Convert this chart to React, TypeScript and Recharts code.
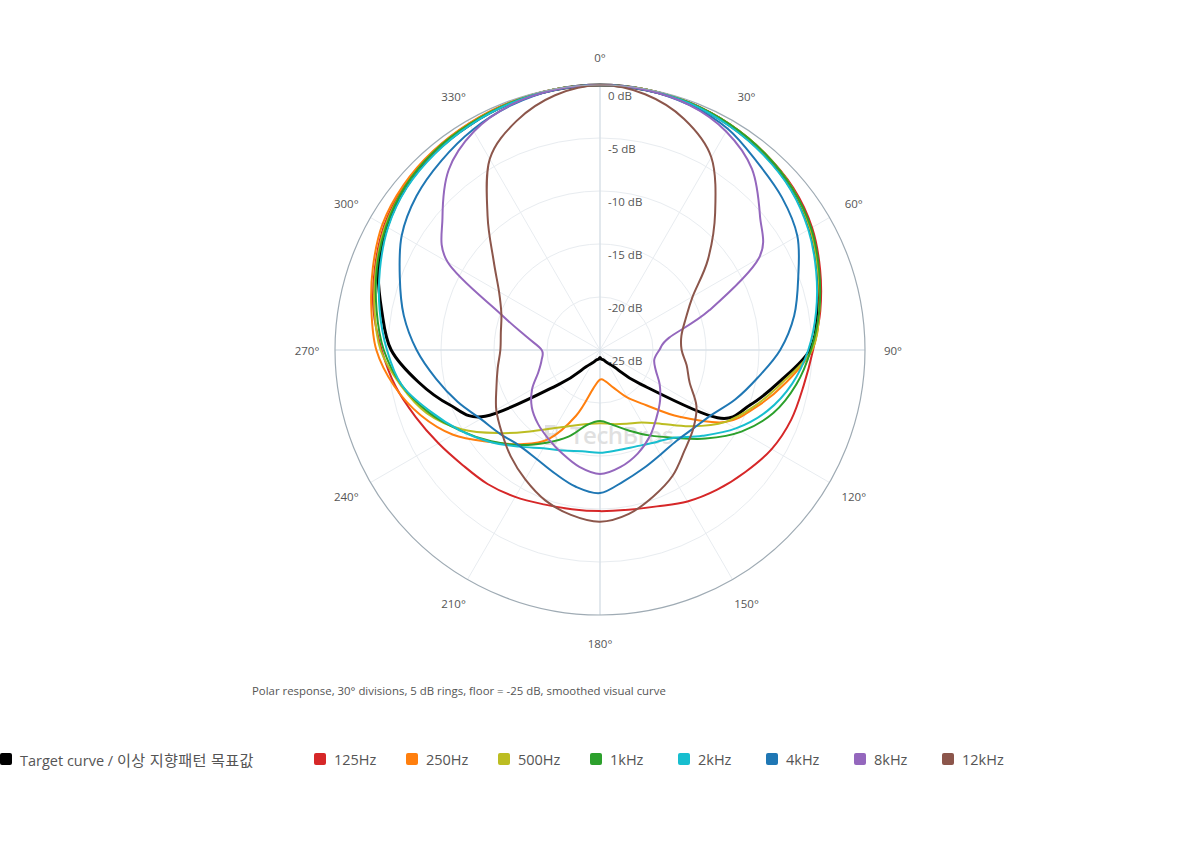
import { RadarChart, Radar, PolarGrid, PolarAngleAxis, PolarRadiusAxis } from 'recharts';

const FONT = '"Open Sans", "Noto Sans CJK KR", sans-serif';

// angle around the mic, clockwise from the front (0°), 10° steps
const ANGLES = [0, 10, 20, 30, 40, 50, 60, 70, 80, 90, 100, 110, 120, 130, 140, 150, 160, 170,
  180, 190, 200, 210, 220, 230, 240, 250, 260, 270, 280, 290, 300, 310, 320, 330, 340, 350];

// level in dB relative to on-axis
const TARGET = [0, -0.08, -0.22, -0.52, -0.9, -1.4, -2.15, -3.15, -4.15, -5.2, -7.8, -9.9, -12.2, -20.0, -22.9, -23.6, -24.0, -24.1,
  -24.3, -24.1, -24.0, -23.6, -22.9, -20.0, -12.5, -9.9, -7.6, -5.3, -4.1, -2.75, -1.8, -1.1, -0.7, -0.45, -0.22, -0.08];
const HZ_125 = [0, -0.05, -0.2, -0.45, -0.8, -1.2, -1.9, -2.9, -3.9, -4.9, -5.5, -5.8, -6.3, -7.1, -7.8, -8.5, -9.3, -9.7,
  -9.8, -9.75, -9.5, -9.0, -8.5, -8.1, -7.4, -6.5, -5.4, -4.4, -3.3, -2.4, -1.5, -0.9, -0.55, -0.35, -0.15, -0.05];
const HZ_250 = [0, -0.05, -0.2, -0.45, -0.8, -1.3, -2.1, -3.1, -4.0, -5.0, -7.2, -9.3, -11.4, -15.2, -18.2, -19.8, -21.2, -22.0,
  -22.2, -21.3, -18.4, -15.3, -13.4, -11.5, -9.0, -7.0, -5.3, -3.9, -3.1, -2.2, -1.3, -0.8, -0.5, -0.3, -0.15, -0.05];
const HZ_500 = [0, -0.05, -0.2, -0.45, -0.8, -1.3, -2.1, -3.1, -4.0, -5.0, -7.5, -9.5, -11.4, -13.8, -15.9, -17.1, -17.6, -17.9,
  -18.1, -17.9, -17.4, -16.5, -15.0, -12.8, -10.0, -7.6, -5.9, -4.3, -3.4, -2.5, -1.6, -1.0, -0.6, -0.4, -0.2, -0.05];
const HZ_1K = [0, -0.05, -0.2, -0.45, -0.8, -1.3, -2.0, -3.0, -4.0, -5.1, -6.2, -7.6, -9.6, -12.0, -14.2, -15.7, -16.9, -17.8,
  -18.3, -17.8, -16.3, -14.9, -13.3, -11.6, -9.8, -7.8, -6.0, -4.6, -3.6, -2.6, -1.7, -1.0, -0.6, -0.4, -0.2, -0.05];
const HZ_2K = [0, -0.1, -0.25, -0.6, -1.0, -1.5, -2.3, -3.3, -4.3, -5.35, -6.6, -8.2, -10.2, -12.4, -14.2, -14.9, -15.3, -15.4,
  -15.3, -15.3, -14.9, -14.3, -13.1, -11.5, -9.8, -8.0, -6.0, -4.9, -3.9, -2.9, -1.9, -1.2, -0.8, -0.5, -0.25, -0.1];
const HZ_4K = [0, -0.1, -0.4, -0.9, -1.9, -2.6, -3.5, -5.1, -6.4, -8.0, -9.9, -11.4, -12.8, -13.5, -13.8, -13.6, -13.1, -12.4,
  -11.5, -11.9, -12.6, -13.1, -13.2, -12.7, -12.0, -10.7, -9.3, -7.7, -6.2, -4.9, -3.4, -2.4, -1.7, -1.0, -0.45, -0.1];
const HZ_8K = [0, -0.1, -0.4, -1.2, -2.7, -5.3, -7.7, -14.0, -18.4, -19.4, -19.8, -19.4, -18.5, -17.6, -16.7, -15.6, -14.6, -13.8,
  -13.3, -13.8, -14.6, -15.3, -15.9, -16.6, -17.6, -18.8, -19.4, -19.5, -18.0, -15.0, -8.4, -5.6, -2.8, -1.2, -0.4, -0.1];
const HZ_12K = [0, -0.5, -1.8, -4.0, -8.1, -11.7, -14.9, -16.4, -17.2, -17.3, -16.7, -16.0, -14.5, -13.5, -12.6, -11.3, -10.3, -9.3,
  -8.8, -9.2, -9.9, -10.9, -11.9, -12.9, -13.7, -14.6, -15.2, -15.6, -15.5, -15.1, -14.0, -11.9, -8.5, -4.2, -2.0, -0.6];

const SERIES = [
  { key: 'f125', name: '125Hz', color: '#d62728', values: HZ_125 },
  { key: 'f250', name: '250Hz', color: '#ff7f0e', values: HZ_250 },
  { key: 'f500', name: '500Hz', color: '#bcbd22', values: HZ_500 },
  { key: 'f1k', name: '1kHz', color: '#2ca02c', values: HZ_1K },
  { key: 'f2k', name: '2kHz', color: '#17becf', values: HZ_2K },
  { key: 'f4k', name: '4kHz', color: '#1f77b4', values: HZ_4K },
  { key: 'f8k', name: '8kHz', color: '#9467bd', values: HZ_8K },
  { key: 'f12k', name: '12kHz', color: '#8c564b', values: HZ_12K },
];

const LEGEND_X = [314, 406, 498, 590, 678, 766, 854, 942];

// grid spokes every 30°, recharts angles are counter-clockwise from 3 o'clock
const DIAGONALS = [60, 30, -30, -60, -120, -150, 150, 120];
const AXES = [90, 0, -90, 180];

// closed catmull-rom through the points recharts computed
const smoothPath = (pts: { x: number; y: number }[]) => {
  const n = pts.length;
  let d = `M${pts[0].x},${pts[0].y}`;
  for (let i = 0; i < n; i++) {
    const p0 = pts[(i - 1 + n) % n], p1 = pts[i], p2 = pts[(i + 1) % n], p3 = pts[(i + 2) % n];
    d += ` C${p1.x + (p2.x - p0.x) / 6},${p1.y + (p2.y - p0.y) / 6} ${p2.x - (p3.x - p1.x) / 6},${p2.y - (p3.y - p1.y) / 6} ${p2.x},${p2.y}`;
  }
  return d + 'Z';
};

const curve = (color: string, width: number) => (props: any) => (
  <path d={smoothPath(props.points)} fill="none" stroke={color} strokeWidth={width} strokeLinejoin="round" />
);

const AngleTick = (props: any) => {
  const { x, y, payload } = props;
  if (payload.value % 30 !== 0) return <g />;
  return (
    <text x={x} y={y} textAnchor="middle" dominantBaseline="central" fontSize={11.5} fill="#555" fontFamily={FONT}>
      {payload.value}°
    </text>
  );
};

const RadiusTick = (props: any) => {
  const { x, y, payload } = props;
  return (
    <text x={x + 8} y={y + 10} dominantBaseline="central" fontSize={11.5} fill="#555" fontFamily={FONT}>
      {payload.value} dB
    </text>
  );
};

export default function App() {
  const rows = ANGLES.map((angle, i) => {
    const row: Record<string, number> = { angle, target: TARGET[i] };
    SERIES.forEach(s => { row[s.key] = s.values[i]; });
    return row;
  });

  return (
    <div style={{ position: 'absolute', left: 0, top: 0, width: 1200, height: 860, background: '#fff', fontFamily: FONT }}>
      <div style={{ position: 'absolute', left: 542, top: 418, display: 'flex', alignItems: 'center', gap: 6, opacity: 0.22, color: '#777' }}>
        <svg width={22} height={24} viewBox="0 0 22 24">
          <path d="M3 2 H13 a6 6 0 0 1 0 10 a6 6 0 0 1 0 10 H3 Z M7 6 V10 H12 a2 2 0 0 0 0 -4 Z M7 14 V18 H12 a2 2 0 0 0 0 -4 Z" fill="#777" fillRule="evenodd" />
        </svg>
        <span style={{ fontSize: 24, fontWeight: 600, letterSpacing: -0.5 }}>TechBros</span>
      </div>

      <RadarChart width={1200} height={680} data={rows} cx={600} cy={350} outerRadius={265}
        startAngle={90} endAngle={-270} margin={{ top: 0, right: 0, bottom: 0, left: 0 }}>
        <PolarGrid gridType="circle" polarRadius={[53, 106, 159, 212]} polarAngles={DIAGONALS} stroke="#e8ecf0" />
        <PolarGrid gridType="circle" polarRadius={[]} polarAngles={AXES} stroke="#d9e0e7" strokeWidth={1.5} />
        <PolarAngleAxis dataKey="angle" tick={AngleTick} tickSize={28} tickLine={false}
          axisLineType="circle" axisLine={{ stroke: '#9fabb4', strokeWidth: 1.2 }} />
        <PolarRadiusAxis angle={90} domain={[-25, 0]} tickCount={6} axisLine={false} tick={RadiusTick} />
        <Radar name="Target curve / 이상 지향패턴 목표값" dataKey="target" stroke="#000" strokeWidth={3}
          fill="none" dot={false} isAnimationActive={false} shape={curve('#000', 3)} />
        {SERIES.map(s => (
          <Radar key={s.key} name={s.name} dataKey={s.key} stroke={s.color} strokeWidth={2}
            fill="none" dot={false} isAnimationActive={false} shape={curve(s.color, 2)} />
        ))}
      </RadarChart>

      <div style={{ position: 'absolute', left: 252, top: 683, fontSize: 11.4, color: '#555', whiteSpace: 'nowrap' }}>
        Polar response, 30° divisions, 5 dB rings, floor = -25 dB, smoothed visual curve
      </div>

      <div style={{ position: 'absolute', left: 0, top: 749, height: 20, display: 'flex', alignItems: 'center', gap: 8 }}>
        <span style={{ width: 12, height: 12, borderRadius: 2, background: '#000' }} />
        <span style={{ fontSize: 14.5, color: '#555', whiteSpace: 'nowrap' }}>
          Target curve / <span style={{ fontSize: 15.2, letterSpacing: 0.3 }}>이상 지향패턴 목표값</span>
        </span>
      </div>
      {SERIES.map((s, i) => (
        <div key={s.key} style={{ position: 'absolute', left: LEGEND_X[i], top: 749, height: 20, display: 'flex', alignItems: 'center', gap: 8 }}>
          <span style={{ width: 12, height: 12, borderRadius: 2, background: s.color }} />
          <span style={{ fontSize: 14.5, color: '#555', whiteSpace: 'nowrap' }}>{s.name}</span>
        </div>
      ))}
    </div>
  );
}
